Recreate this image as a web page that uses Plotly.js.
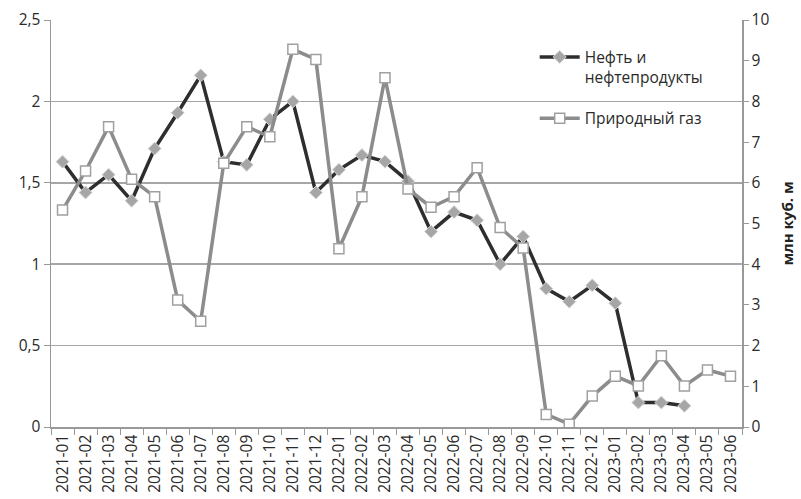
<!DOCTYPE html>
<html>
<head>
<meta charset="utf-8">
<script src="https://cdn.plot.ly/plotly-3.0.1.min.js"></script>
<style>html,body{margin:0;padding:0;background:#fff;}#chart{width:801px;height:499px;}</style>
</head>
<body>
<div id="chart"></div>
<script>
const months = ["2021-01","2021-02","2021-03","2021-04","2021-05","2021-06","2021-07","2021-08","2021-09","2021-10","2021-11","2021-12",
"2022-01","2022-02","2022-03","2022-04","2022-05","2022-06","2022-07","2022-08","2022-09","2022-10","2022-11","2022-12",
"2023-01","2023-02","2023-03","2023-04","2023-05","2023-06"];
const oil = [1.63,1.44,1.55,1.39,1.71,1.93,2.16,1.63,1.61,1.89,2.00,1.44,
1.58,1.67,1.63,1.51,1.20,1.32,1.27,1.00,1.17,0.85,0.77,0.87,
0.76,0.15,0.15,0.13,null,null];
const gas = [5.33,6.29,7.38,6.09,5.66,3.12,2.60,6.48,7.38,7.13,9.28,9.03,
4.38,5.66,8.58,5.85,5.40,5.66,6.37,4.90,4.40,0.31,0.07,0.76,
1.25,1.01,1.75,1.01,1.40,1.25];
const oilName = "Нефть и<br>нефтепродукты";
const gasName = "Природный газ";
const yLeftTitle = "";
const yRightTitle = "млн куб. м";

const traces = [
  {x: months, y: oil, name: oilName, type: "scatter", mode: "lines+markers", yaxis: "y", legendgroup: "a",
   line: {color: "#2e2e2e", width: 3.5}, marker: {symbol: "diamond", size: 10, color: "#a6a6a6", line: {color: "#d9d9d9", width: 1}}},
  {x: months, y: gas, name: gasName, type: "scatter", mode: "lines+markers", yaxis: "y2", legendgroup: "b",
   line: {color: "#8c8c8c", width: 3.5}, marker: {symbol: "square", size: 10, color: "#ffffff", line: {color: "#a0a0a0", width: 1.5}}}
];

const layout = {
  width: 801, height: 499,
  margin: {l: 51, r: 59, t: 20, b: 72},
  paper_bgcolor: "#fff", plot_bgcolor: "#fff",
  separators: ", ",
  font: {family: "Open Sans, Liberation Sans, sans-serif", size: 15, color: "#2a2a2a"},
  showlegend: true,
  legend: {x: 0.70, y: 0.95, xanchor: "left", yanchor: "top", bgcolor: "rgba(0,0,0,0)", valign: "top",
    font: {size: 15.5, color: "#2a2a2a"}, tracegroupgap: 18, traceorder: "grouped", itemwidth: 40},
  xaxis: {type: "category", range: [-0.5, 29.5], tickangle: -90, tickson: "boundaries",
    ticks: "outside", ticklen: 6, tickcolor: "#999", showline: true, linecolor: "#999", linewidth: 1.5,
    showgrid: false, tickfont: {size: 15.5, color: "#2a2a2a"}},
  yaxis: {range: [0, 2.5], dtick: 0.5, tick0: 0, tickformat: ".1~f", ticks: "outside", ticklen: 6, tickcolor: "#999",
    showline: true, linecolor: "#999", linewidth: 1.5, showgrid: true, gridcolor: "#a6a6a6", gridwidth: 1.5,
    zeroline: false, tickfont: {size: 15.5, color: "#2a2a2a"}, title: {text: yLeftTitle}},
  yaxis2: {overlaying: "y", side: "right", range: [0, 10], dtick: 1, ticks: "outside", ticklen: 5, tickcolor: "#999",
    showline: true, linecolor: "#999", linewidth: 1.5, showgrid: false, zeroline: false,
    tickfont: {size: 15.5, color: "#2a2a2a"},
    title: {text: yRightTitle, font: {size: 15, color: "#222", weight: "bold"}, standoff: 14}}
};

Plotly.newPlot("chart", traces, layout, {displayModeBar: false, staticPlot: true});
</script>
</body>
</html>
